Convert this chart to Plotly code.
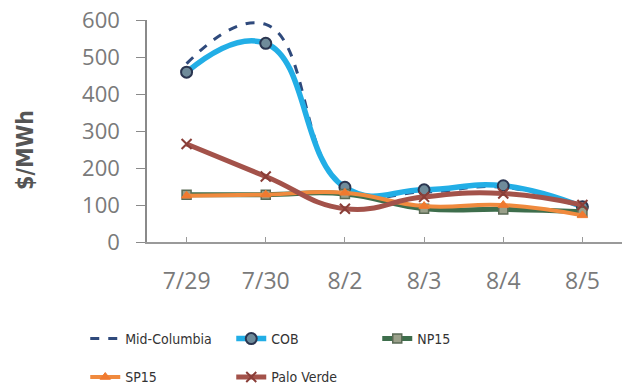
import plotly.graph_objects as go

dates = ["7/29", "7/30", "8/2", "8/3", "8/4", "8/5"]
mid_columbia = [482, 588, 145, 135, 148, 95]
cob = [459, 537, 148, 141, 152, 95]
np15 = [128, 128, 130, 90, 88, 82]
sp15 = [125, 128, 133, 97, 100, 72]
palo_verde = [265, 177, 90, 122, 131, 100]
y_ticks = [0, 100, 200, 300, 400, 500, 600]

fig = go.Figure()

fig.add_trace(go.Scatter(x=dates, y=mid_columbia, name="Mid-Columbia", mode="lines",
    line=dict(color="#2f4a7c", width=3, dash="dash", shape="spline", smoothing=1.3),
    legend="legend"))
fig.add_trace(go.Scatter(x=dates, y=cob, name="COB", mode="lines+markers",
    line=dict(color="#22aee6", width=5.5, shape="spline", smoothing=1.3),
    marker=dict(symbol="circle", size=11, color="#6f8b9a", line=dict(color="#2a3550", width=2)),
    legend="legend"))
fig.add_trace(go.Scatter(x=dates, y=np15, name="NP15", mode="lines+markers",
    line=dict(color="#3e6e4c", width=5, shape="spline", smoothing=1.3),
    marker=dict(symbol="square", size=9, color="#9aa08a", line=dict(color="#5a6a55", width=1.5)),
    legend="legend"))
fig.add_trace(go.Scatter(x=dates, y=sp15, name="SP15", mode="lines+markers",
    line=dict(color="#f08a3e", width=4, shape="spline", smoothing=1.3),
    marker=dict(symbol="triangle-up", size=9, color="#f07a30", line=dict(color="#f07a30", width=1)),
    legend="legend2"))
fig.add_trace(go.Scatter(x=dates, y=palo_verde, name="Palo Verde", mode="lines+markers",
    line=dict(color="#a3524a", width=5, shape="spline", smoothing=1.3),
    marker=dict(symbol="x-thin-open", size=10, color="#8a3e38", line=dict(color="#8a3e38", width=2)),
    legend="legend2"))

legend_font = dict(family="DejaVu Sans Condensed", size=14, color="#333333")
fig.update_layout(
    width=623, height=386,
    margin=dict(l=147, r=1, t=20, b=144, autoexpand=False),
    paper_bgcolor="white", plot_bgcolor="white",
    showlegend=True,
    legend=dict(orientation="h", x=-0.13, xanchor="left", y=-0.437, yanchor="middle",
                entrywidth=101, font=legend_font, bgcolor="rgba(0,0,0,0)"),
    legend2=dict(orientation="h", x=-0.13, xanchor="left", y=-0.61, yanchor="middle",
                 entrywidth=101, font=legend_font, bgcolor="rgba(0,0,0,0)"),
    xaxis=dict(type="category", range=[-0.5, 5.5], showgrid=False, zeroline=False,
               showline=True, linecolor="#9a9a9a", linewidth=1.5, automargin=False,
               ticks="inside", ticklen=5, tickcolor="#9a9a9a",
               tickfont=dict(family="Open Sans", size=23, color="#7a7a7a"),
               ticklabelstandoff=18),
    yaxis=dict(range=[0, 600], tickvals=y_ticks, showgrid=False, zeroline=False,
               showline=True, linecolor="#8a8a8a", linewidth=1.5, automargin=False,
               ticks="outside", ticklen=9, tickcolor="#8a8a8a",
               tickfont=dict(family="Open Sans", size=22, color="#7a7a7a"),
               ticklabelstandoff=12),
    annotations=[dict(text="<b>$/MWh</b>", textangle=-90, xref="paper", yref="paper",
                      x=-0.257, y=0.414, xanchor="center", yanchor="middle", showarrow=False,
                      font=dict(family="DejaVu Sans Condensed", size=23, color="#555555"))],
)

fig.write_html("out.html")
